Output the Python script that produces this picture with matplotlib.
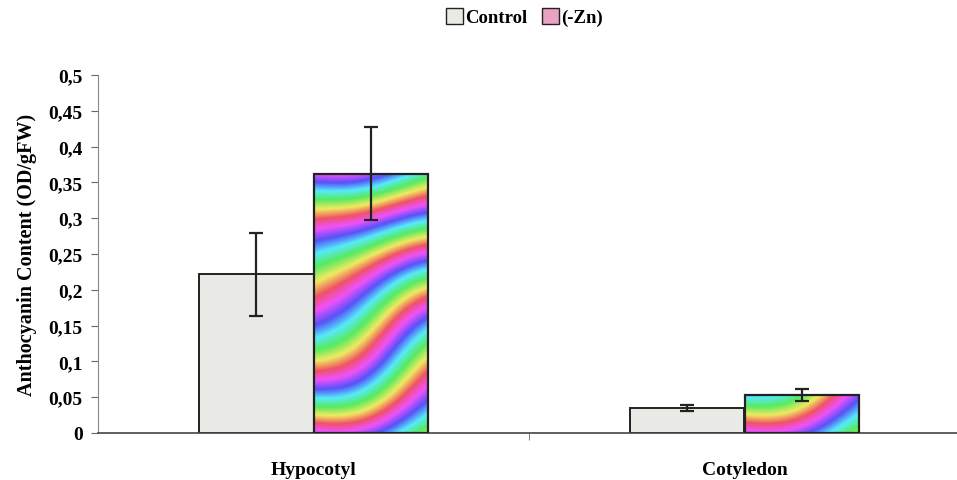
import numpy as np
import matplotlib
matplotlib.use("Agg")
import matplotlib.pyplot as plt
from matplotlib.patches import Patch
from matplotlib.ticker import FuncFormatter

# values
tissues = ["Hypocotyl", "Cotyledon"]
control = [0.222, 0.035]
control_err = [0.058, 0.004]
minus_zn = [0.362, 0.053]
minus_zn_err = [0.065, 0.009]
yticks = [0, 0.05, 0.1, 0.15, 0.2, 0.25, 0.3, 0.35, 0.4, 0.45, 0.5]

plt.rcParams["font.family"] = ["Liberation Serif", "DejaVu Serif"]
plt.rcParams["font.weight"] = "bold"
plt.rcParams["axes.labelweight"] = "bold"

fig = plt.figure(figsize=(9.57, 4.81), dpi=100)
ax = fig.add_axes([98 / 957, 47 / 481, 862 / 957, 358 / 481])

x = np.arange(len(tissues))
w = 0.265

b1 = ax.bar(x - w / 2, control, w, color="#e9e9e5", edgecolor="#222222",
            linewidth=1.4, zorder=2)
b2 = ax.bar(x + w / 2, minus_zn, w, color="none", edgecolor="#222222",
            linewidth=1.6, zorder=4)

ax.set_xlim(-0.5, 1.5)
ax.set_ylim(0, 0.5)

# the -Zn bars show a rainbow moire in the scan; fake it with a clipped image
px_per_x = 862 / 2.0
px_per_y = 358 / 0.5
for p in b2:
    x0, h, bw = p.get_x(), p.get_height(), p.get_width()
    nx = int(bw * px_per_x)
    ny = max(int(h * px_per_y), 2)
    yy, xx = np.mgrid[0:ny, 0:nx]
    phase = yy / 62.0 - xx / 170.0 + 0.22 * np.sin(yy / 45.0 + xx / 60.0) + 0.1 * np.sin(xx / 25.0)
    rgb = plt.cm.hsv((0.8 + phase) % 1.0)[..., :3]
    rgb = 0.6 * rgb + 0.4 * np.array([0.85, 0.8, 0.95])
    im = ax.imshow(rgb, extent=[x0, x0 + bw, 0, h], aspect="auto", origin="lower",
                   zorder=3, interpolation="bilinear")
    im.set_clip_path(p)

ax.errorbar(x - w / 2, control, yerr=control_err, fmt="none", ecolor="#222222",
            elinewidth=1.6, capsize=5, capthick=1.6, zorder=5)
ax.errorbar(x + w / 2, minus_zn, yerr=minus_zn_err, fmt="none", ecolor="#222222",
            elinewidth=1.6, capsize=5, capthick=1.6, zorder=5)

ax.set_xlim(-0.5, 1.5)
ax.set_ylim(0, 0.5)
ax.set_yticks(yticks)
ax.yaxis.set_major_formatter(FuncFormatter(lambda v, _: ("%g" % round(v, 2)).replace(".", ",")))
ax.set_xticks(x)
ax.set_xticklabels(tissues)
ax.set_xticks([0.5], minor=True)
ax.tick_params(axis="x", which="major", length=0, pad=20, labelsize=14)
ax.tick_params(axis="x", which="minor", length=5, color="#666666")
ax.tick_params(axis="y", length=5, color="#666666", labelsize=14, pad=6)

for s in ["top", "right"]:
    ax.spines[s].set_visible(False)
ax.spines["left"].set_color("#888888")
ax.spines["bottom"].set_color("#444444")
ax.spines["bottom"].set_linewidth(1.2)

ax.set_ylabel("Anthocyanin Content (OD/gFW)", fontsize=14.5, labelpad=8)

handles = [Patch(facecolor="#e9e9e5", edgecolor="#222222", label="Control"),
           Patch(facecolor="#e8a2c4", edgecolor="#222222", label="(-Zn)")]
fig.legend(handles=handles, loc="center", bbox_to_anchor=(0.548, 0.962), ncol=2,
           frameon=False, fontsize=13.5, handlelength=0.9, handleheight=0.9,
           handletextpad=0.1, columnspacing=0.8)

fig.savefig("out.png", dpi=100)
